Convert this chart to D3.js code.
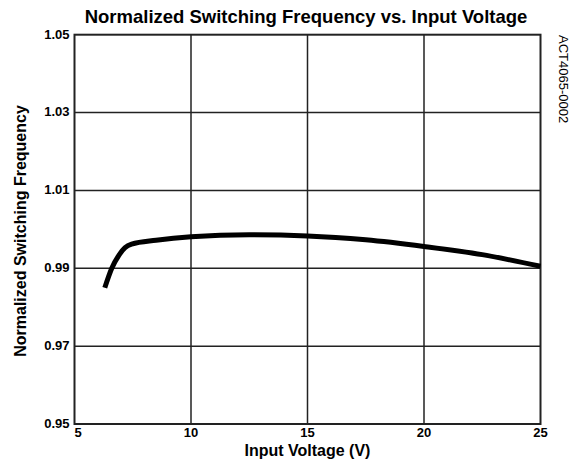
<!DOCTYPE html>
<html>
<head>
<meta charset="utf-8">
<script src="https://cdn.jsdelivr.net/npm/d3@7"></script>
<style>
  body { margin: 0; background: #fff; }
  text { font-family: "Liberation Sans", Arial, sans-serif; fill: #000; }
  .tick-label { font-size: 13px; font-weight: bold; }
  .axis-title { font-size: 16px; font-weight: bold; }
  .header { font-size: 18.5px; font-weight: bold; }
</style>
</head>
<body>
<div id="graph"></div>
<script>
// Data
const inputVoltage = [6.3, 6.6, 6.91, 7.17, 7.45, 8.5, 10, 12.5, 15, 17.5, 20, 22.5, 25];
const normFreq = [0.985, 0.99, 0.9934, 0.9953, 0.9962, 0.9972, 0.9981, 0.9986, 0.9983, 0.9973, 0.9956, 0.9935, 0.9905];
const xTicks = [5, 10, 15, 20, 25];
const yTicks = [0.95, 0.97, 0.99, 1.01, 1.03, 1.05];

const data = inputVoltage.map((v, i) => ({ v: v, f: normFreq[i] }));

// Dimensions and margins
const fWidth = 585, fHeight = 464;
const ml = 74.5, mr = 44.5, mt = 34.7, mb = 40;
const width = fWidth - ml - mr, height = fHeight - mt - mb;

let x = d3.scaleLinear().domain([5, 25]).range([0, width]);
let y = d3.scaleLinear().domain([0.95, 1.05]).range([height, 0]);

let root = d3.select("#graph").append("svg")
    .attr("width", fWidth)
    .attr("height", fHeight);

let svg = root.append("g")
    .attr("transform", `translate(${ml}, ${mt})`);

// Grid lines
svg.selectAll(".vgrid")
    .data(xTicks.slice(1, -1))
    .enter().append("line")
    .attr("x1", d => x(d)).attr("x2", d => x(d))
    .attr("y1", 0).attr("y2", height)
    .attr("stroke", "#222").attr("stroke-width", 1.5);

svg.selectAll(".hgrid")
    .data(yTicks.slice(1, -1))
    .enter().append("line")
    .attr("x1", 0).attr("x2", width)
    .attr("y1", d => y(d)).attr("y2", d => y(d))
    .attr("stroke", "#222").attr("stroke-width", 1.5);

// Frame
svg.append("rect")
    .attr("width", width).attr("height", height)
    .attr("fill", "none").attr("stroke", "#222").attr("stroke-width", 2);

// Curve
let line = d3.line()
    .x(d => x(d.v))
    .y(d => y(d.f))
    .curve(d3.curveMonotoneX);

svg.append("path")
    .datum(data)
    .attr("d", line)
    .attr("fill", "none")
    .attr("stroke", "#000")
    .attr("stroke-width", 5);

// Y tick labels
svg.selectAll(".ylab")
    .data(yTicks)
    .enter().append("text")
    .attr("class", "tick-label")
    .attr("x", -5)
    .attr("y", d => y(d))
    .attr("dy", "0.3em")
    .attr("text-anchor", "end")
    .text(d => d3.format(".2f")(d));

// X tick labels
svg.selectAll(".xlab")
    .data(xTicks)
    .enter().append("text")
    .attr("class", "tick-label")
    .attr("x", d => x(d))
    .attr("y", height + 13)
    .attr("text-anchor", d => d === 5 ? "start" : "middle")
    .text(d => d);

// Axis titles
svg.append("text")
    .attr("class", "axis-title")
    .attr("x", width / 2)
    .attr("y", height + 32)
    .attr("text-anchor", "middle")
    .text("Input Voltage (V)");

root.append("text")
    .attr("class", "axis-title")
    .attr("transform", `translate(26, 231) rotate(-90)`)
    .attr("text-anchor", "middle")
    .text("Normalized Switching Frequency");

// Header
root.append("text")
    .attr("class", "header")
    .attr("x", 306)
    .attr("y", 23)
    .attr("text-anchor", "middle")
    .text("Normalized Switching Frequency vs. Input Voltage");

// Side code
root.append("text")
    .attr("transform", "translate(559, 35) rotate(90)")
    .style("font-size", "13px")
    .text("ACT4065-0002");
</script>
</body>
</html>
